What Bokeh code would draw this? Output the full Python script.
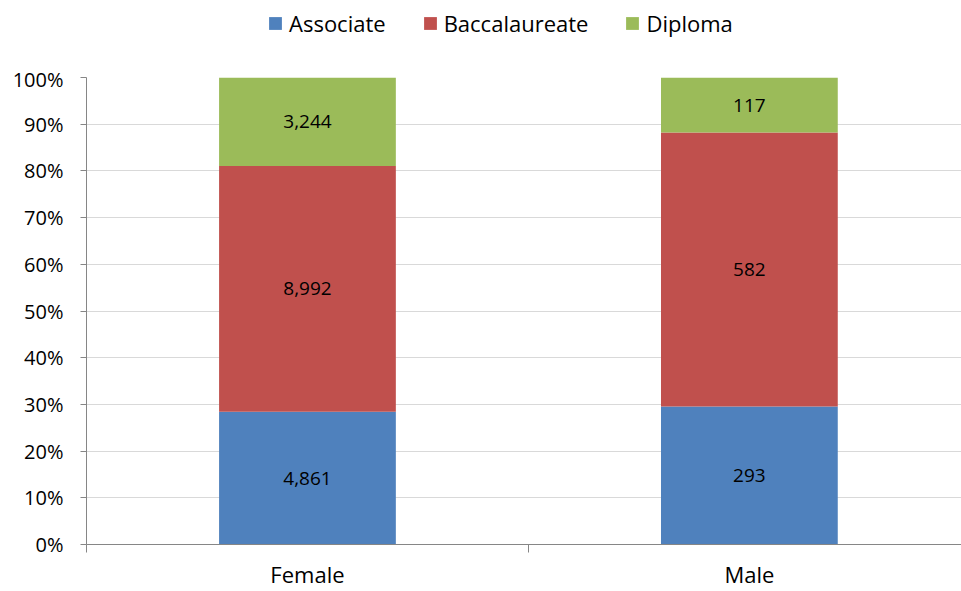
from bokeh.plotting import figure
from bokeh.layouts import column
from bokeh.models import ColumnDataSource, Legend, LegendItem, NumeralTickFormatter, FixedTicker, Range1d
from bokeh.embed import file_html
from bokeh.resources import INLINE
from bokeh.core.properties import value

categories = ["Female", "Male"]
series = ["Associate", "Baccalaureate", "Diploma"]
associate = [4861, 293]
baccalaureate = [8992, 582]
diploma = [3244, 117]
colors = ["#4F81BD", "#C0504D", "#9BBB59"]
y_ticks = [0.0, 0.1, 0.2, 0.3, 0.4, 0.5, 0.6, 0.7, 0.8, 0.9, 1.0]

FONT = "Open Sans"

totals = [a + b + d for a, b, d in zip(associate, baccalaureate, diploma)]
shares = {
    "Associate": [a / t for a, t in zip(associate, totals)],
    "Baccalaureate": [b / t for b, t in zip(baccalaureate, totals)],
    "Diploma": [d / t for d, t in zip(diploma, totals)],
}
centers = [i + 0.5 for i in range(len(categories))]
boundaries = [float(i) for i in range(len(categories) + 1)]
data = {"x": centers}
data.update(shares)
source = ColumnDataSource(data)

# ---- legend strip (top) ----
top = figure(x_range=Range1d(0, 1.98), y_range=Range1d(0, 1), width=961, height=65,
             output_backend="svg", toolbar_location=None,
             min_border_left=86, min_border_right=0, min_border_top=0, min_border_bottom=0)
top.axis.visible = False
top.grid.visible = False
top.outline_line_color = None
legend_renderers = top.vbar_stack(series, x="x", width=0.4, color=colors, source=source,
                                  line_color=None)
for r in legend_renderers:
    r.visible = False
legend = Legend(items=[LegendItem(label=s, renderers=[r]) for s, r in zip(series, legend_renderers)],
                orientation="horizontal", location=(181, 27),
                glyph_width=16, glyph_height=16, label_standoff=6, spacing=36,
                padding=0, margin=0, border_line_color=None, background_fill_alpha=0,
                label_text_font=FONT, label_text_font_size="22px", label_text_color="#000000")
top.add_layout(legend, "center")

# ---- main chart ----
p = figure(x_range=Range1d(0, 1.98), y_range=Range1d(0, 1), width=961, height=526,
           output_backend="svg", toolbar_location=None,
           min_border_left=86, min_border_right=0, min_border_top=12, min_border_bottom=45)

p.vbar_stack(series, x="x", width=0.4, color=colors, source=source, line_color=None)

# value labels
raw = {"Associate": associate, "Baccalaureate": baccalaureate, "Diploma": diploma}
lx, ly, lt = [], [], []
for i, c in enumerate(centers):
    base = 0.0
    for s in series:
        h = shares[s][i]
        lx.append(c)
        ly.append(base + h / 2)
        lt.append(f"{raw[s][i]:,}")
        base += h
p.text(x=lx, y=ly, text=lt, text_align="center", text_baseline="middle",
       text_font=value(FONT), text_font_size="19px", text_color="#000000")

p.yaxis.ticker = FixedTicker(ticks=y_ticks)
p.yaxis.formatter = NumeralTickFormatter(format="0%")
p.yaxis.major_label_text_font = FONT
p.yaxis.major_label_text_font_size = "20px"
p.yaxis.major_label_text_color = "#000000"
p.yaxis.axis_line_color = "#868686"
p.yaxis.major_tick_line_color = "#868686"
p.yaxis.major_tick_out = 6
p.yaxis.major_tick_in = 0
p.yaxis.minor_tick_line_color = None
p.yaxis.minor_tick_out = 0
p.yaxis.major_label_standoff = 17

p.xaxis.ticker = FixedTicker(ticks=centers, minor_ticks=boundaries)
p.xaxis.major_label_overrides = {c: lab for c, lab in zip(centers, categories)}
p.xaxis.major_label_text_font = FONT
p.xaxis.major_label_text_font_size = "22px"
p.xaxis.major_label_text_color = "#000000"
p.xaxis.axis_line_color = "#868686"
p.xaxis.major_tick_line_color = None
p.xaxis.major_tick_out = 0
p.xaxis.major_tick_in = 0
p.xaxis.minor_tick_line_color = "#868686"
p.xaxis.minor_tick_out = 8
p.xaxis.minor_tick_in = 0
p.xaxis.major_label_standoff = 6

p.xgrid.grid_line_color = None
p.ygrid.grid_line_color = "#D9D9D9"
p.ygrid.grid_line_width = 1
p.outline_line_color = None

layout = column(top, p, spacing=0)
open("out.html", "w").write(file_html(layout, INLINE))
